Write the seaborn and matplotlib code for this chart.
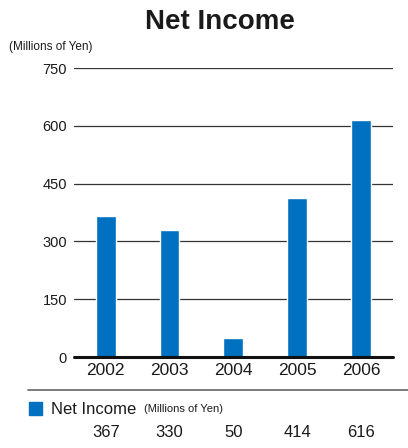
import matplotlib
matplotlib.use('Agg')
import matplotlib.pyplot as plt
import seaborn as sns
import pandas as pd
from matplotlib.patches import Rectangle
from matplotlib.lines import Line2D

years = ['2002', '2003', '2004', '2005', '2006']
net_income = [367, 330, 50, 414, 616]
y_ticks = [0, 150, 300, 450, 600, 750]

sns.set_theme(style='white')
plt.rcParams['font.family'] = ['Liberation Sans', 'DejaVu Sans']

df = pd.DataFrame({'Year': years, 'NetIncome': net_income})
bar_color = '#0070C0'

fig = plt.figure(figsize=(4.08, 4.48), dpi=100)
ax = fig.add_axes([0.181, 0.203, 0.782, 0.645])

sns.barplot(data=df, x='Year', y='NetIncome', color=bar_color, width=0.31,
            saturation=1, ax=ax, zorder=3)

ax.set_ylim(0, 750)
ax.set_xlim(-0.5, 4.5)
ax.set_yticks(y_ticks)
ax.set_yticklabels([str(t) for t in y_ticks], fontsize=10.5, color='#1a1a1a')
for t in y_ticks[1:]:
    ax.axhline(t, color='#333333', linewidth=0.9, zorder=1)
ax.axhline(0, color='#111111', linewidth=2.2, zorder=4, clip_on=False)
for s in ax.spines.values():
    s.set_visible(False)
ax.tick_params(axis='y', length=0, pad=5)
ax.tick_params(axis='x', length=0, pad=4, labelsize=12.5, labelcolor='#1a1a1a')
ax.set_xlabel('')
ax.set_ylabel('')

fig.text(0.54, 0.951, 'Net Income', ha='center', va='center', fontsize=20,
         fontweight='bold', color='#1a1a1a')
fig.text(0.022, 0.895, '(Millions of Yen)', ha='left', va='center', fontsize=8.5,
         color='#1a1a1a')

# separator and legend-style table below
fig.add_artist(Line2D([28 / 408, 1.0], [1 - 390 / 448] * 2, color='#666666',
                      linewidth=1.2, transform=fig.transFigure))
fig.add_artist(Rectangle((29 / 408, 1 - 415 / 448), 13 / 408, 13 / 448,
                         color=bar_color, transform=fig.transFigure))
fig.text(51 / 408, 1 - 409 / 448, 'Net Income', ha='left', va='center',
         fontsize=12, color='#1a1a1a')
fig.text(144 / 408, 1 - 409 / 448, '(Millions of Yen)', ha='left', va='center',
         fontsize=8, color='#1a1a1a')
for i, v in enumerate(net_income):
    xf = fig.transFigure.inverted().transform(ax.transData.transform((i, 0)))[0]
    fig.text(xf, 1 - 432 / 448, str(v), ha='center', va='center', fontsize=12,
             color='#1a1a1a')

fig.savefig('out.png', dpi=100)
